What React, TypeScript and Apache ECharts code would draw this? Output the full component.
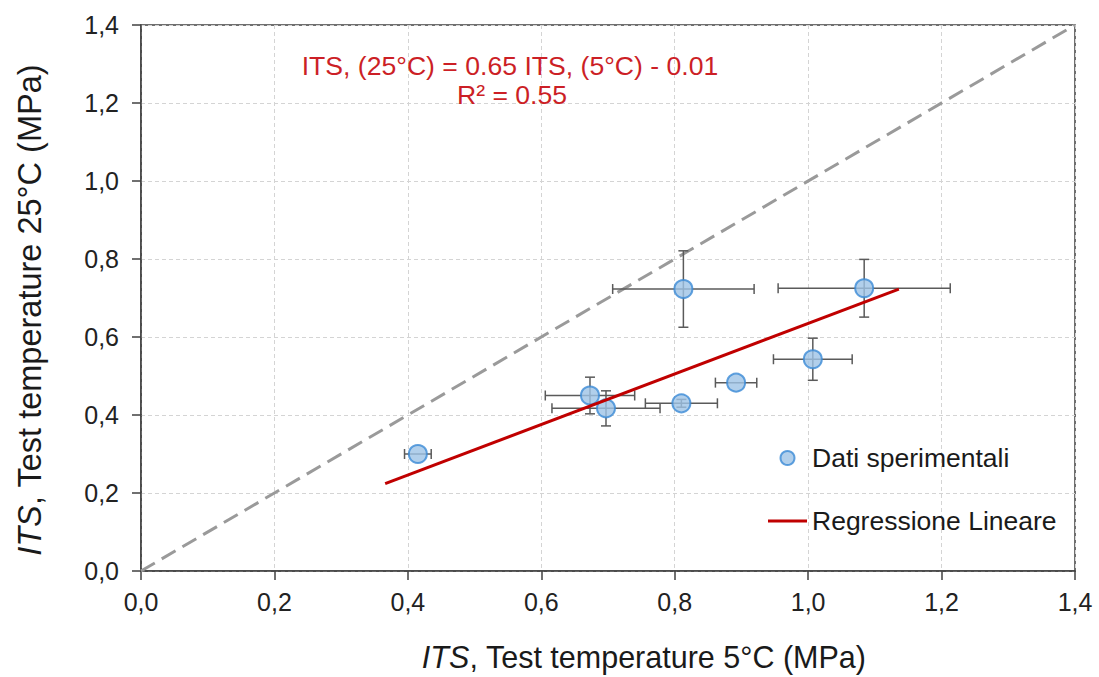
import React, { useEffect, useRef } from "react";
import * as echarts from "echarts";

// Experimental points (ITS at 5°C vs ITS at 25°C, MPa)
const xValues = [0.415, 0.673, 0.697, 0.81, 0.813, 0.892, 1.007, 1.084];
const yValues = [0.3, 0.45, 0.417, 0.43, 0.723, 0.483, 0.543, 0.725];
// Standard deviations (error bars)
const xErrors = [0.02, 0.067, 0.081, 0.054, 0.106, 0.031, 0.059, 0.129];
const yErrors = [0.0, 0.047, 0.045, 0.01, 0.098, 0.0, 0.054, 0.074];
// Linear regression line end points
const regressionX = [0.366, 1.136];
const regressionY = [0.224, 0.723];
// Line of equality
const equalityX = [0, 1.4];
const equalityY = [0, 1.4];

const FONT = "'Liberation Sans', Arial, sans-serif";

export default function App() {
  const ref = useRef<HTMLDivElement>(null);

  useEffect(() => {
    document.body.style.margin = "0";
    if (!ref.current) return;
    const chart = echarts.init(ref.current, undefined, { renderer: "svg" });

    const points = xValues.map((x, i) => [x, yValues[i]]);
    const errData = xValues.map((x, i) => [x, yValues[i], xErrors[i], yErrors[i]]);
    const regData = regressionX.map((x, i) => [x, regressionY[i]]);
    const eqData = equalityX.map((x, i) => [x, equalityY[i]]);

    const fmt = (v: number) => v.toFixed(1).replace(".", ",");

    chart.setOption({
      animation: false,
      backgroundColor: "#ffffff",
      textStyle: { fontFamily: FONT },
      grid: {
        left: 141,
        right: 24,
        top: 25,
        bottom: 102,
        show: true,
        borderColor: "#404040",
        borderWidth: 1.5,
      },
      xAxis: {
        type: "value",
        min: 0,
        max: 1.4,
        interval: 0.2,
        name: "{it|ITS}, Test temperature 5°C (MPa)",
        nameLocation: "middle",
        nameGap: 70,
        nameTextStyle: {
          fontFamily: FONT,
          fontSize: 30.5,
          color: "#1a1a1a",
          padding: [0, 0, 0, 72],
          rich: {
            it: { fontStyle: "italic", fontFamily: FONT, fontSize: 30.5, color: "#1a1a1a" },
          },
        },
        axisLine: { show: true, lineStyle: { color: "#404040", width: 1.5 } },
        axisTick: { show: true, length: 9, lineStyle: { color: "#404040", width: 1.5 } },
        axisLabel: {
          formatter: fmt,
          fontSize: 25,
          color: "#222",
          margin: 18,
          fontFamily: FONT,
        },
        splitLine: {
          show: true,
          lineStyle: { color: "#d4d4d4", type: [4, 3], width: 1 },
        },
      },
      yAxis: {
        type: "value",
        min: 0,
        max: 1.4,
        interval: 0.2,
        name: "{it|ITS}, Test temperature 25°C (MPa)",
        nameLocation: "middle",
        nameGap: 95,
        nameTextStyle: {
          fontFamily: FONT,
          fontSize: 32.5,
          color: "#1a1a1a",
          padding: [0, 24, 0, 0],
          rich: {
            it: { fontStyle: "italic", fontFamily: FONT, fontSize: 32.5, color: "#1a1a1a" },
          },
        },
        axisLine: { show: true, lineStyle: { color: "#404040", width: 1.5 } },
        axisTick: { show: true, length: 9, lineStyle: { color: "#404040", width: 1.5 } },
        axisLabel: {
          formatter: fmt,
          fontSize: 25,
          color: "#222",
          margin: 22,
          fontFamily: FONT,
        },
        splitLine: {
          show: true,
          lineStyle: { color: "#d4d4d4", type: [4, 3], width: 1 },
        },
      },
      legend: {
        orient: "vertical",
        left: 768,
        top: 443,
        padding: 0,
        itemWidth: 39,
        itemHeight: 14,
        itemGap: 33,
        data: [
          { name: "Dati sperimentali", icon: "circle" },
          { name: "Regressione Lineare", icon: "path://M0 0 H100 V8 H0 Z" },
        ],
        textStyle: { fontSize: 26.5, color: "#1a1a1a", fontFamily: FONT, lineHeight: 30 },
      },
      graphic: [
        {
          type: "text",
          x: 510,
          y: 66,
          style: {
            text: "ITS, (25°C) = 0.65 ITS, (5°C) - 0.01",
            fill: "#cc1f26",
            font: `26.6px ${FONT}`,
            textAlign: "center",
            textVerticalAlign: "middle",
          },
          z: 100,
        },
        {
          type: "text",
          x: 512,
          y: 95,
          style: {
            text: "R² = 0.55",
            fill: "#cc1f26",
            font: `26.6px ${FONT}`,
            textAlign: "center",
            textVerticalAlign: "middle",
          },
          z: 100,
        },
      ],
      series: [
        {
          name: "Uguaglianza",
          type: "line",
          data: eqData,
          symbol: "none",
          lineStyle: { color: "#9a9a9a", width: 3, type: [16, 8] },
          z: 1,
          silent: true,
        },
        {
          name: "Errori",
          type: "custom",
          data: errData,
          encode: { x: 0, y: 1 },
          z: 2,
          renderItem: (params: any, api: any) => {
            const x = api.value(0);
            const y = api.value(1);
            const ex = api.value(2);
            const ey = api.value(3);
            const cap = 5;
            const style = { stroke: "#5a5a5a", lineWidth: 1.5 };
            const children: any[] = [];
            if (ex > 0) {
              const l = api.coord([x - ex, y]);
              const r = api.coord([x + ex, y]);
              children.push({ type: "line", shape: { x1: l[0], y1: l[1], x2: r[0], y2: r[1] }, style });
              children.push({ type: "line", shape: { x1: l[0], y1: l[1] - cap, x2: l[0], y2: l[1] + cap }, style });
              children.push({ type: "line", shape: { x1: r[0], y1: r[1] - cap, x2: r[0], y2: r[1] + cap }, style });
            }
            if (ey > 0) {
              const t = api.coord([x, y + ey]);
              const b = api.coord([x, y - ey]);
              children.push({ type: "line", shape: { x1: t[0], y1: t[1], x2: b[0], y2: b[1] }, style });
              children.push({ type: "line", shape: { x1: t[0] - cap, y1: t[1], x2: t[0] + cap, y2: t[1] }, style });
              children.push({ type: "line", shape: { x1: b[0] - cap, y1: b[1], x2: b[0] + cap, y2: b[1] }, style });
            }
            return { type: "group", children };
          },
          silent: true,
        },
        {
          name: "Dati sperimentali",
          type: "scatter",
          data: points,
          symbol: "circle",
          symbolSize: 18,
          itemStyle: { color: "#9dc3e6", borderColor: "#3a8ad6", borderWidth: 2 },
          z: 3,
        },
        {
          name: "Regressione Lineare",
          type: "line",
          data: regData,
          symbol: "none",
          lineStyle: { color: "#c00000", width: 3 },
          itemStyle: { color: "#c00000" },
          z: 4,
        },
      ],
    });

    return () => chart.dispose();
  }, []);

  return <div ref={ref} style={{ width: 1099, height: 677 }} />;
}
